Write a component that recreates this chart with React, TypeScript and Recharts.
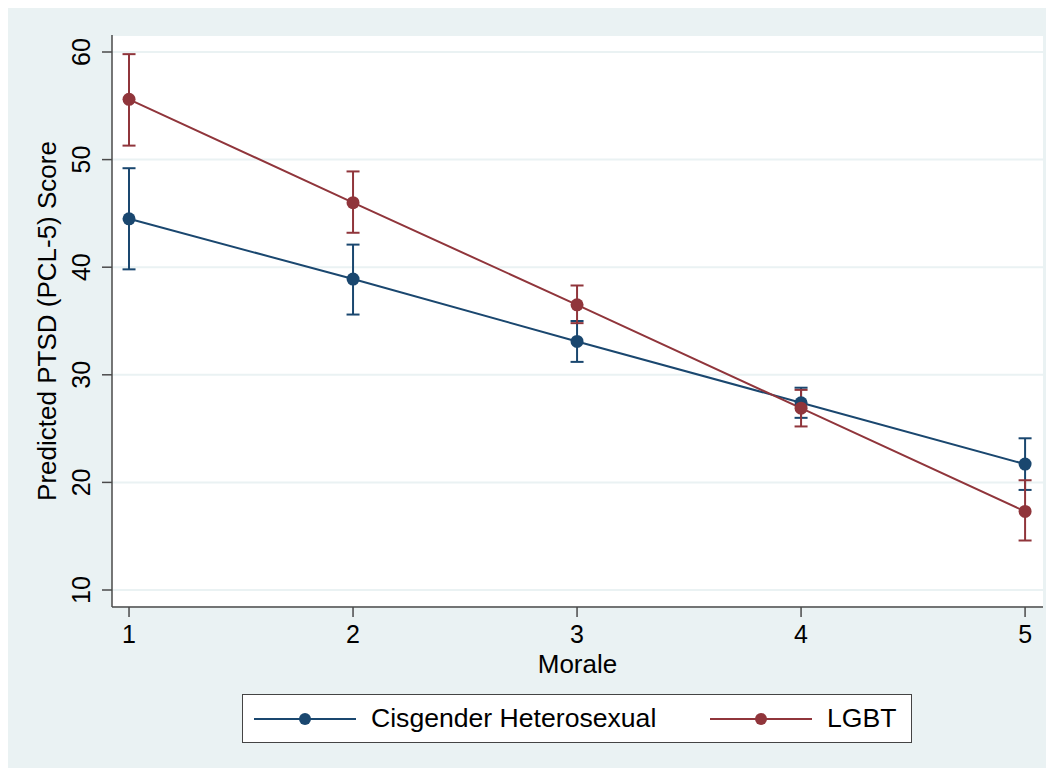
import { ComposedChart, Line, ErrorBar, XAxis, YAxis, CartesianGrid } from 'recharts';

const morale = [1, 2, 3, 4, 5];

const cisScore = [44.5, 38.9, 33.1, 27.4, 21.7];
const cisLow = [39.8, 35.6, 31.2, 26.0, 19.3];
const cisHigh = [49.2, 42.1, 35.0, 28.8, 24.1];

const lgbtScore = [55.6, 46.0, 36.5, 26.9, 17.3];
const lgbtLow = [51.3, 43.2, 34.8, 25.2, 14.6];
const lgbtHigh = [59.8, 48.9, 38.3, 28.6, 20.2];

const yTicks = [10, 20, 30, 40, 50, 60];
const xTicks = [1, 2, 3, 4, 5];

const NAVY = '#1a476f';
const MAROON = '#90353b';
const BG = '#eaf2f3';
const AXIS = '#4a4a4a';
const FONT = '"Liberation Sans", Arial, Helvetica, sans-serif';

const series = [
  { key: 'cis', name: 'Cisgender Heterosexual', color: NAVY },
  { key: 'lgbt', name: 'LGBT', color: MAROON },
];

const data = morale.map((m, i) => ({
  morale: m,
  cis: cisScore[i],
  cisErr: [cisScore[i] - cisLow[i], cisHigh[i] - cisScore[i]],
  lgbt: lgbtScore[i],
  lgbtErr: [lgbtScore[i] - lgbtLow[i], lgbtHigh[i] - lgbtScore[i]],
}));

const W = 1040;
const H = 760;
const PLOT_BOTTOM = 599;

const YTick = (props: any) => {
  const y = props.y;
  return (
    <text
      x={82}
      y={y}
      transform={`rotate(-90, 82, ${y})`}
      textAnchor="middle"
      fontFamily={FONT}
      fontSize={25}
      fill="#000"
    >
      {props.payload.value}
    </text>
  );
};

const XTick = (props: any) => (
  <text x={props.x} y={PLOT_BOTTOM + 36} textAnchor="middle" fontFamily={FONT} fontSize={25} fill="#000">
    {props.payload.value}
  </text>
);

const XTitle = (props: any) => {
  const vb = props.viewBox || { x: 104, width: 931 };
  return (
    <text x={vb.x + vb.width / 2} y={665} textAnchor="middle" fontFamily={FONT} fontSize={26} fill="#000">
      Morale
    </text>
  );
};

const YTitle = (props: any) => {
  const vb = props.viewBox || { y: 27, height: 572 };
  const cy = vb.y + vb.height / 2;
  return (
    <text
      x={48}
      y={cy}
      transform={`rotate(-90, 48, ${cy})`}
      textAnchor="middle"
      fontFamily={FONT}
      fontSize={26}
      fill="#000"
    >
      Predicted PTSD (PCL-5) Score
    </text>
  );
};

const LegendBox = () => (
  <div
    style={{
      position: 'absolute',
      left: 234,
      top: 686,
      width: 670,
      height: 49,
      boxSizing: 'border-box',
      background: '#fff',
      border: '1.5px solid #444',
      fontFamily: FONT,
      fontSize: 26.6,
    }}
  >
    {series.map((s, i) => {
      const lineLeft = i === 0 ? 11 : 467;
      const textLeft = i === 0 ? 128 : 584;
      return (
        <div key={s.key}>
          <svg style={{ position: 'absolute', left: lineLeft, top: 14 }} width={102} height={20}>
            <line x1={0} y1={10} x2={102} y2={10} stroke={s.color} strokeWidth={2} />
            <circle cx={51} cy={10} r={6} fill={s.color} />
          </svg>
          <span style={{ position: 'absolute', left: textLeft, top: 7, lineHeight: '32px', whiteSpace: 'nowrap' }}>
            {s.name}
          </span>
        </div>
      );
    })}
  </div>
);

export default function App() {
  return (
    <div style={{ position: 'relative', width: W, height: H, background: BG }}>
      <ComposedChart width={W} height={H} data={data} margin={{ top: 27, right: 5, left: 40, bottom: 101 }}>
        <CartesianGrid vertical={false} fill="#fff" stroke={BG} strokeWidth={2} />
        <XAxis
          dataKey="morale"
          type="number"
          domain={[0.924, 5.08]}
          ticks={xTicks}
          allowDataOverflow
          height={60}
          tickSize={10}
          stroke={AXIS}
          strokeWidth={1.5}
          tick={<XTick />}
          label={<XTitle />}
        />
        <YAxis
          type="number"
          domain={[8.42, 61.58]}
          ticks={yTicks}
          allowDataOverflow
          width={64}
          tickSize={10}
          stroke={AXIS}
          strokeWidth={1.5}
          tick={<YTick />}
          label={<YTitle />}
        />
        {series.map((s) => (
          <Line
            key={s.key}
            type="linear"
            dataKey={s.key}
            name={s.name}
            stroke={s.color}
            strokeWidth={2}
            dot={{ r: 6.5, fill: s.color, stroke: s.color, strokeWidth: 0 }}
            activeDot={false}
            isAnimationActive={false}
          >
            <ErrorBar dataKey={`${s.key}Err`} width={6.5} stroke={s.color} strokeWidth={2} direction="y" />
          </Line>
        ))}
      </ComposedChart>
      <LegendBox />
    </div>
  );
}
